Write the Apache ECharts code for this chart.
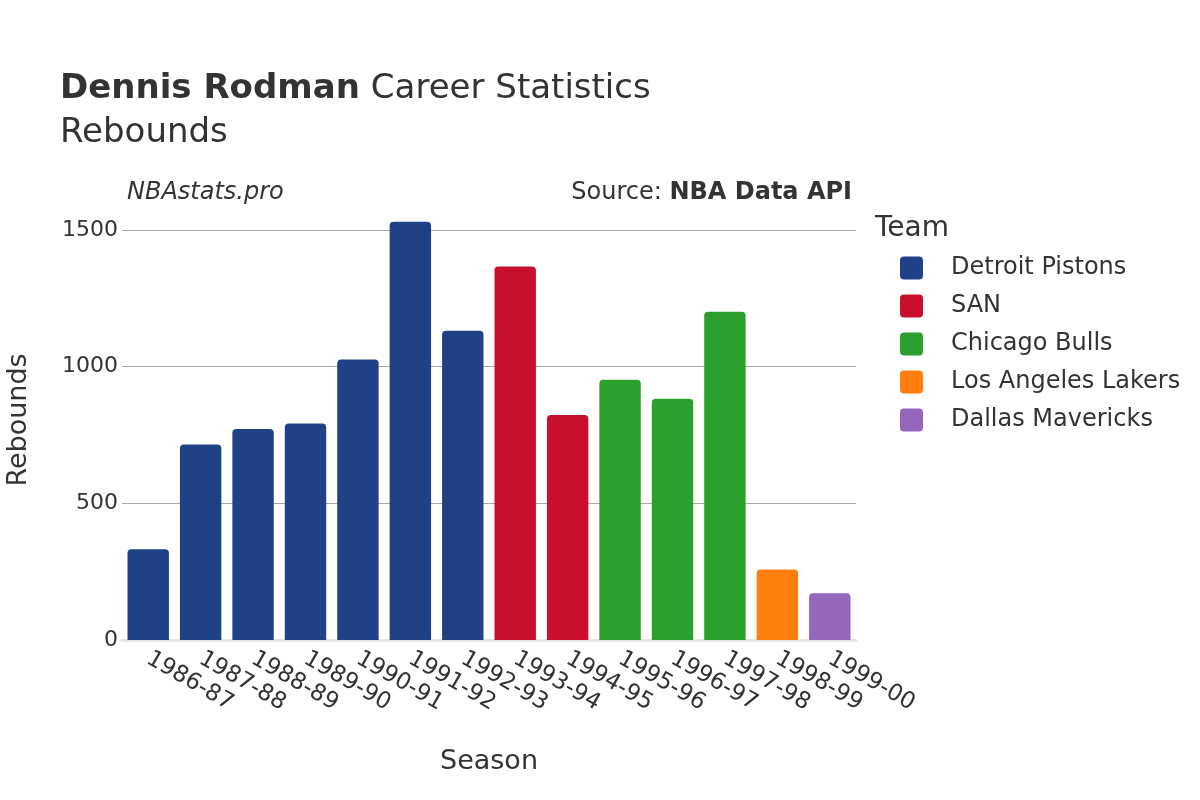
<!DOCTYPE html>
<html>
<head>
<meta charset="utf-8">
<script src="https://cdn.jsdelivr.net/npm/echarts@6/dist/echarts.min.js"></script>
<style>html,body{margin:0;padding:0;background:#fff}#c{width:1200px;height:800px}</style>
</head>
<body>
<div id="c"></div>
<script>
const seasons = ['1986-87','1987-88','1988-89','1989-90','1990-91','1991-92','1992-93','1993-94','1994-95','1995-96','1996-97','1997-98','1998-99','1999-00'];
const teams = ['Detroit Pistons','SAN','Chicago Bulls','Los Angeles Lakers','Dallas Mavericks'];
const teamColors = ['#1f4287','#c8102e','#2ca02c','#ff7f0e','#9467bd'];
const seasonTeam = ['Detroit Pistons','Detroit Pistons','Detroit Pistons','Detroit Pistons','Detroit Pistons','Detroit Pistons','Detroit Pistons','SAN','SAN','Chicago Bulls','Chicago Bulls','Chicago Bulls','Los Angeles Lakers','Dallas Mavericks'];
const rebounds = [332, 715, 772, 792, 1026, 1530, 1132, 1367, 823, 952, 883, 1201, 258, 171];
const yTicks = [0, 500, 1000, 1500];

const font = 'DejaVu Sans';
const series = teams.map((t, i) => ({
  name: t,
  type: 'bar',
  stack: 'all',
  barCategoryGap: '21%',
  itemStyle: { color: teamColors[i], borderRadius: [4, 4, 0, 0] },
  data: seasons.map((s, j) => seasonTeam[j] === t ? rebounds[j] : '-')
}));

const chart = echarts.init(document.getElementById('c'), null, { renderer: 'canvas' });
chart.setOption({
  backgroundColor: '#fff',
  animation: false,
  textStyle: { fontFamily: font, color: '#333' },
  title: [
    {
      text: '{b|Dennis Rodman}{s| }{n|Career Statistics}\n{n|Rebounds}',
      left: 55, top: 62,
      textStyle: {
        fontWeight: 'normal',
        rich: {
          b: { fontFamily: font, fontWeight: 'bold', fontSize: 34, color: '#333', lineHeight: 44 },
          s: { fontFamily: font, fontWeight: 'normal', fontSize: 34, color: '#333', lineHeight: 44, width: 11 },
          n: { fontFamily: font, fontWeight: 'normal', fontSize: 34, color: '#333', lineHeight: 44 }
        }
      }
    },
    {
      text: 'NBAstats.pro', left: 122, top: 176,
      textStyle: { fontFamily: font, fontStyle: 'italic', fontWeight: 'normal', fontSize: 24, color: '#333' }
    },
    {
      text: '{n|Source: }{b|NBA Data API}', right: 343, top: 176,
      textStyle: {
        fontWeight: 'normal',
        rich: {
          n: { fontFamily: font, fontSize: 24, fontWeight: 'normal', color: '#333' },
          b: { fontFamily: font, fontSize: 24, fontWeight: 'bold', color: '#333' }
        }
      }
    },
    {
      text: 'Team', left: 870, top: 210,
      textStyle: { fontFamily: font, fontWeight: 'normal', fontSize: 28, color: '#333' }
    }
  ],
  legend: {
    orient: 'vertical',
    left: 895, top: 251,
    itemWidth: 23, itemHeight: 23,
    itemGap: 14,
    icon: 'path://M4,0 H19 Q23,0 23,4 V19 Q23,23 19,23 H4 Q0,23 0,19 V4 Q0,0 4,0 Z',
    textStyle: { fontFamily: font, fontSize: 24, color: '#333', padding: [0, 0, 0, 23] },
    data: teams
  },
  grid: { left: 122, right: 344, top: 200, height: 440, containLabel: false, outerBoundsMode: 'none' },
  xAxis: {
    type: 'category',
    data: seasons,
    name: 'Season',
    nameLocation: 'middle',
    nameGap: 108,
    nameTextStyle: { fontFamily: font, fontSize: 27, color: '#333' },
    axisLine: { show: true, lineStyle: { color: '#e6e6e6', width: 3 } },
    axisTick: { show: false },
    axisLabel: { rotate: -30, fontFamily: font, fontSize: 23, color: '#333', margin: 17, interval: 0 }
  },
  yAxis: {
    type: 'value',
    min: 0, max: 1610, interval: 500,
    name: 'Rebounds',
    nameLocation: 'middle',
    nameGap: 90,
    nameTextStyle: { fontFamily: font, fontSize: 27, color: '#333' },
    axisLine: { show: false },
    axisTick: { show: false },
    splitLine: { lineStyle: { color: ['#aaaaaa', '#aaaaaa', '#aaaaaa', '#aaaaaa', 'rgba(0,0,0,0)'], width: 1 } },
    axisLabel: {
      fontFamily: font, fontSize: 22, color: '#333', margin: 4,
      formatter: v => yTicks.includes(v) ? String(v) : ''
    }
  },
  series: series
});
</script>
</body>
</html>
